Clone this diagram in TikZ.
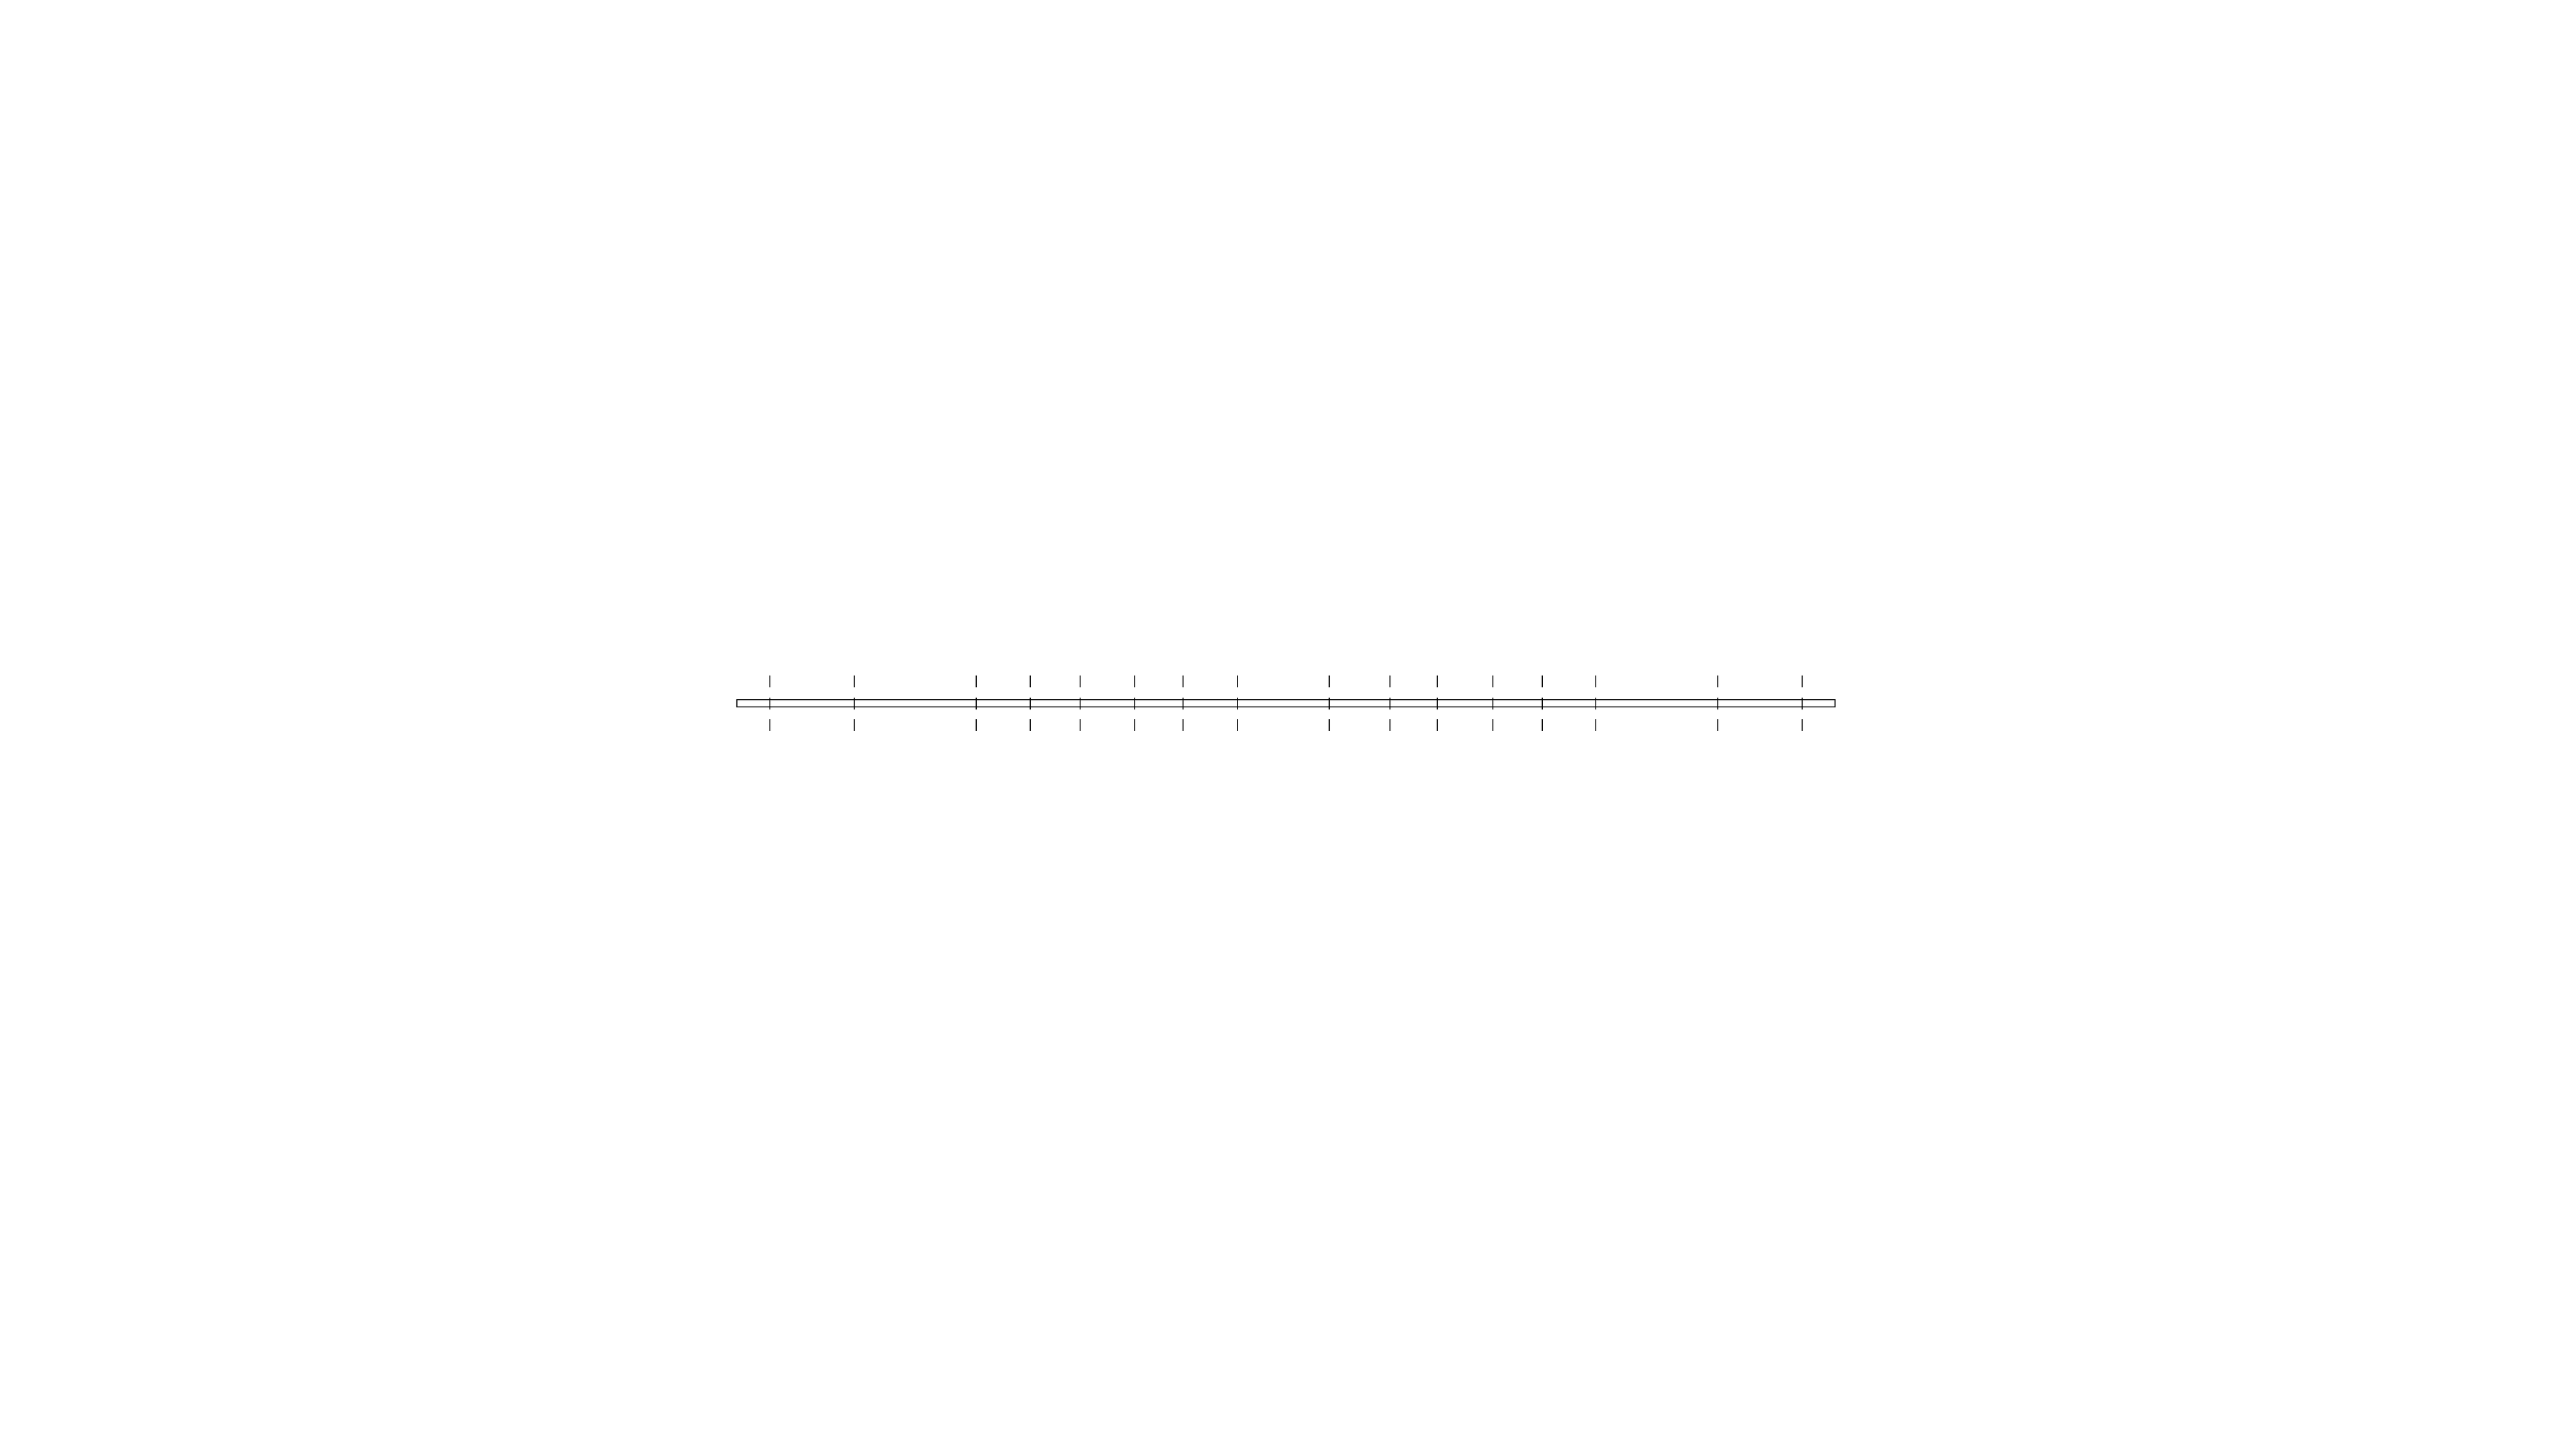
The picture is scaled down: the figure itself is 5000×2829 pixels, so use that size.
\documentclass[tikz,border=0pt]{standalone}
\usepackage{amsmath}
\usepackage{tikz}

\begin{document}
\begin{tikzpicture}[x=0.01cm, y=-0.01cm,
        barline/.style={draw, line width=0.57pt},
        tickline/.style={draw, line width=0.57pt, dash pattern=on 0.23cm off 0.195cm}]
        \useasboundingbox (0,0) rectangle (5000,2829);
        % Bar
        \draw[barline] (1432,1360) rectangle (3566,1374);
        
        % Ticks across the bar
        \foreach \x in {1496,1660,1897,2002,2099,2205,2299,2405,
                        2583,2701,2793,2901,2997,3101,3338,3502}
            \draw[tickline] (\x,1313) -- (\x,1422);
    \end{tikzpicture}
\end{document}
